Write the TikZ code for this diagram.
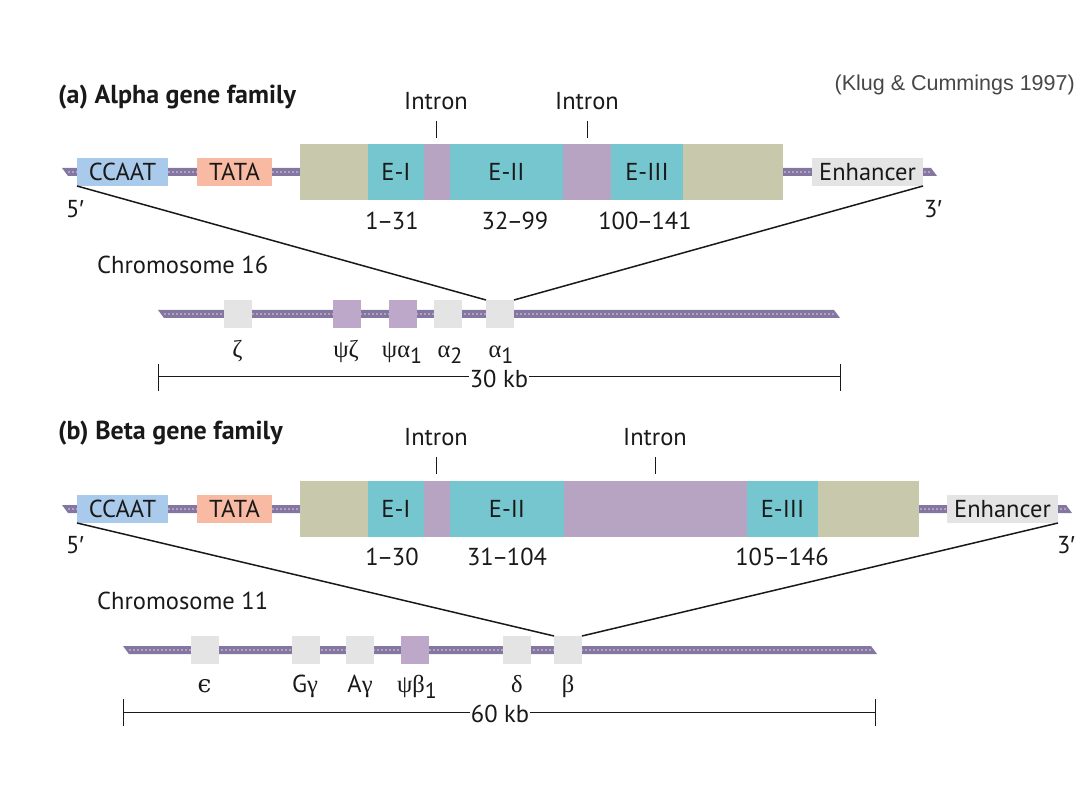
\documentclass[tikz,border=0pt]{standalone}
\usepackage{fontspec}
\setmainfont{PT Sans}
\newfontfamily\grk{Liberation Serif}
\newfontfamily\dvs{DejaVu Serif}
\newfontfamily\libsans{Liberation Sans}
\newcommand\prm{{\libsans ′}}
\newcommand\lowsub[1]{\raisebox{-6pt}{\fontsize{22}{24}\selectfont #1}}
\newcommand\nd{\kern-1.5pt–\kern-1.5pt}
\definecolor{ccaatc}{RGB}{170,202,236}
\definecolor{tatac}{RGB}{248,186,162}
\definecolor{khakic}{RGB}{200,200,172}
\definecolor{exonc}{RGB}{118,198,208}
\definecolor{intronc}{RGB}{182,164,194}
\definecolor{greyc}{RGB}{228,228,228}
\definecolor{psic}{RGB}{190,168,202}
\definecolor{strandc}{RGB}{128,120,160}
\definecolor{stranddot}{RGB}{196,152,192}
\definecolor{txt}{RGB}{25,25,25}
\tikzset{
  lab/.style={font=\fontsize{24.5}{26}\selectfont, text=txt, inner sep=0pt},
  ttl/.style={font=\fontsize{26}{28}\selectfont\bfseries, text=txt, inner sep=0pt, anchor=west},
  boxn/.style={lab, outer sep=0pt},
  seg/.style={boxn, minimum height=56pt},
  sbox/.style={boxn, minimum height=28pt},
  gbox/.style={boxn, minimum width=28pt, minimum height=28pt, fill=greyc},
  pbox/.style={gbox, fill=psic},
  conn/.style={draw=txt, line width=1.5pt},
  tickl/.style={draw=txt, line width=1pt},
  strand/.style={fill=strandc},
  strandtex/.style={draw=stranddot, line width=2pt, dash pattern=on 1.5pt off 2.5pt},
}
\newcommand\strand[4]{% x0 x1 ytop ybot
  \fill[strand] (#1,#3) -- ({#2-6},#3) -- (#2,#4) -- ({#1+6},#4) -- cycle;
  \draw[strandtex] ({#1+6},{(#3+#4)/2}) -- ({#2-6},{(#3+#4)/2});
}
\begin{document}
\begin{tikzpicture}[x=1pt,y=-1pt]
\useasboundingbox[fill=white] (0,0) rectangle (1080,810);

% ---------------- (a) ----------------
\node[ttl] (ta) at (58,97) {(a) Alpha gene family};
\node[font=\libsans\fontsize{21.5}{23}\selectfont, text=black!72, inner sep=0pt, anchor=east] (klug) at (1075,85) {(Klug \& Cummings 1997)};

\strand{62}{937}{168}{176}
\node[sbox, fill=ccaatc, minimum width=91pt] (ccA) at (122.5,172) {CCAAT};
\node[sbox, fill=tatac, minimum width=75pt] (taA) at (234.5,172) {TATA};
\node[sbox, fill=greyc, minimum width=111pt] (enA) at (867.5,172) {Enhancer};

\node[seg, fill=khakic, minimum width=68pt] (kA1) at (334,172) {};
\node[seg, fill=exonc, minimum width=56pt] (e1A) at (396,172) {E-I};
\node[seg, fill=intronc, minimum width=26pt] (i1A) at (437,172) {};
\node[seg, fill=exonc, minimum width=113pt] (e2A) at (506.5,172) {E-II};
\node[seg, fill=intronc, minimum width=48pt] (i2A) at (587,172) {};
\node[seg, fill=exonc, minimum width=72pt] (e3A) at (647,172) {E-III};
\node[seg, fill=khakic, minimum width=100pt] (kA2) at (733,172) {};

\node[lab] (inA1) at (436,101) {Intron};
\node[lab] (inA2) at (587,101) {Intron};
\draw[tickl] (436,121) -- (436,138);
\draw[tickl] (587,121) -- (587,138);

\node[lab] (fiveA) at (75,209) {5\prm};
\node[lab] (threeA) at (933,209) {3\prm};
\node[lab] (nA1) at (392,221) {1\nd31};
\node[lab] (nA2) at (515,221) {32\nd99};
\node[lab] (nA3) at (645,221) {100\nd141};

\node[lab, anchor=west] (chrA) at (97,265) {Chromosome 16};
\strand{158}{840}{310}{318}
\node[gbox] (zeta) at (237.5,314) {};
\node[pbox] (psizeta) at (347,314) {};
\node[pbox] (psialpha) at (402.5,314) {};
\node[gbox] (alphatwo) at (447.5,314) {};
\node[gbox] (alphaone) at (500,314) {};

\node[lab, anchor=base] (lzeta) at (237.5,358) {\grk ζ};
\node[lab, anchor=base] (lpsizeta) at (346,358) {\grk ψζ};
\node[lab, anchor=base] (lpsialpha) at (402,358) {{\grk ψα}\lowsub{1}};
\node[lab, anchor=base] (lalphatwo) at (450,358) {{\grk α}\lowsub{2}};
\node[lab, anchor=base] (lalphaone) at (501,358) {{\grk α}\lowsub{1}};

\draw[conn] (ccA.south west) -- (alphaone.north west);
\draw[conn] (enA.south east) -- (alphaone.north east);

\coordinate (sa1) at (158,377);
\coordinate (sa2) at (840,377);
\node[lab, fill=white, inner xsep=1pt] (kb30) at (499,379) {30 kb};
\draw[tickl] (sa1) -- (sa1 -| kb30.west);
\draw[tickl] (sa2 -| kb30.east) -- (sa2);
\draw[tickl] (158,364) -- (158,391);
\draw[tickl] (840,364) -- (840,391);

% ---------------- (b) ----------------
\node[ttl] (tb) at (58,433) {(b) Beta gene family};

\strand{62}{1072}{505}{513}
\node[sbox, fill=ccaatc, minimum width=91pt] (ccB) at (122.5,509) {CCAAT};
\node[sbox, fill=tatac, minimum width=75pt] (taB) at (234.5,509) {TATA};
\node[sbox, fill=greyc, minimum width=111pt] (enB) at (1002.5,509) {Enhancer};

\node[seg, fill=khakic, minimum width=68pt] (kB1) at (334,509) {};
\node[seg, fill=exonc, minimum width=56pt] (e1B) at (396,509) {E-I};
\node[seg, fill=intronc, minimum width=26pt] (i1B) at (437,509) {};
\node[seg, fill=exonc, minimum width=114pt] (e2B) at (507,509) {E-II};
\node[seg, fill=intronc, minimum width=183pt] (i2B) at (655.5,509) {};
\node[seg, fill=exonc, minimum width=71pt] (e3B) at (782.5,509) {E-III};
\node[seg, fill=khakic, minimum width=101pt] (kB2) at (868.5,509) {};

\node[lab] (inB1) at (436,437) {Intron};
\node[lab] (inB2) at (655,437) {Intron};
\draw[tickl] (436,457) -- (436,474);
\draw[tickl] (655,457) -- (655,474);

\node[lab] (fiveB) at (75,545) {5\prm};
\node[lab] (threeB) at (1066,545) {3\prm};
\node[lab] (nB1) at (392,557) {1\nd30};
\node[lab] (nB2) at (507,557) {31\nd104};
\node[lab] (nB3) at (782,557) {105\nd146};

\node[lab, anchor=west] (chrB) at (97,601) {Chromosome 11};
\strand{123}{877}{646}{654}
\node[gbox] (eps) at (204.5,650) {};
\node[gbox] (ggam) at (305.5,650) {};
\node[gbox] (agam) at (360,650) {};
\node[pbox] (psibeta) at (415,650) {};
\node[gbox] (delta) at (517,650) {};
\node[gbox] (beta) at (568,650) {};

\node[lab, anchor=base] (leps) at (204.5,692) {\dvs ϵ};
\node[lab, anchor=base] (lggam) at (305,692) {G{\grk γ}};
\node[lab, anchor=base] (lagam) at (360,692) {A{\grk γ}};
\node[lab, anchor=base] (lpsibeta) at (417,692) {{\grk ψβ}\lowsub{1}};
\node[lab, anchor=base] (ldelta) at (517,692) {\grk δ};
\node[lab, anchor=base] (lbeta) at (568,692) {\grk β};

\draw[conn] (ccB.south west) -- (beta.north west);
\draw[conn] (enB.south east) -- (beta.north east);

\coordinate (sb1) at (123,712);
\coordinate (sb2) at (875,712);
\node[lab, fill=white, inner xsep=1pt] (kb60) at (500,714) {60 kb};
\draw[tickl] (sb1) -- (sb1 -| kb60.west);
\draw[tickl] (sb2 -| kb60.east) -- (sb2);
\draw[tickl] (123,699) -- (123,726);
\draw[tickl] (875,699) -- (875,726);
\end{tikzpicture}
\end{document}
